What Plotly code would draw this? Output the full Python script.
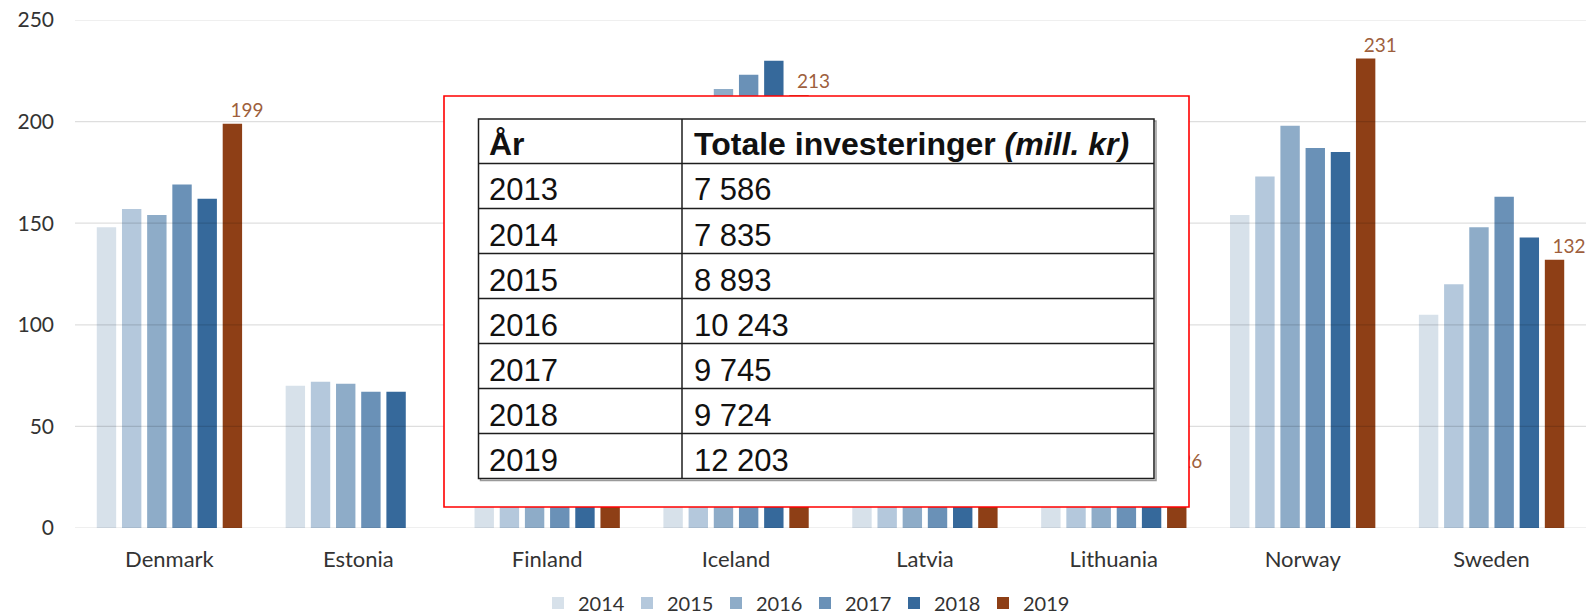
import plotly.graph_objects as go

# ---------------- data ----------------
countries = ["Denmark", "Estonia", "Finland", "Iceland", "Latvia", "Lithuania", "Norway", "Sweden"]
years = ["2014", "2015", "2016", "2017", "2018", "2019"]
v2014 = [148, 70, 112, 200, 38, 20, 154, 105]
v2015 = [157, 72, 118, 207, 42, 22, 173, 120]
v2016 = [154, 71, 124, 216, 45, 24, 198, 148]
v2017 = [169, 67, 126, 223, 44, 23, 187, 163]
v2018 = [162, 67, 128, 230, 48, 25, 185, 143]
v2019 = [199, None, 136, 213, 52, 26, 231, 132]
series = [v2014, v2015, v2016, v2017, v2018, v2019]
colors = ["#d7e1ea", "#b4c8dc", "#8eacc8", "#6a91b7", "#36699b", "#8e3f16"]

y_ticks = [0, 50, 100, 150, 200, 250]

tbl_header = ["<b>År</b>", "<b>Totale investeringer <i>(mill. kr)</i></b>"]
tbl_years = ["2013", "2014", "2015", "2016", "2017", "2018", "2019"]
tbl_invest = ["7 586", "7 835", "8 893", "10 243", "9 745", "9 724", "12 203"]

# ---------------- geometry ----------------
W, H = 1586, 616
ML, MR, MT, MB = 75, 0, 20, 88
PW = W - ML - MR
PH = H - MT - MB


def px(x):
    return (x - ML) / PW


def py(y):
    return (H - MB - y) / PH


fig = go.Figure()
for yr, vals, col in zip(years, series, colors):
    kw = {}
    if yr == "2019":
        kw = dict(
            text=["\u00a0" * 6 + str(v) if v is not None else "" for v in vals],
            textposition="outside",
            textfont=dict(family="Lato", size=19, color="#9e5f3d"),
            constraintext="none",
            cliponaxis=False,
        )
    fig.add_trace(go.Bar(x=countries, y=vals, name=yr, marker=dict(color=col, line=dict(width=0)), **kw))

shapes = []
# grid lines drawn over the bars, semi-transparent
for t in y_ticks:
    shapes.append(dict(type="line", xref="paper", yref="y", x0=0, x1=1, y0=t, y1=t,
                       line=dict(color="rgba(0,0,0,0.13)", width=1.2), layer="above"))

# red overlay box
shapes.append(dict(type="rect", xref="paper", yref="paper", x0=px(444), x1=px(1189), y0=py(507), y1=py(96),
                   fillcolor="white", line=dict(color="#ff0000", width=1.6), layer="above"))

# table
tx0, tx1, tdiv = 478.5, 1154, 682
row_lines = [119, 163.5, 208.5, 253.5, 298.5, 343.5, 388.5, 433.5, 478.5]
# faint shadow
shapes.append(dict(type="rect", xref="paper", yref="paper", x0=px(tx0 + 2), x1=px(tx1 + 2),
                   y0=py(row_lines[-1] + 2), y1=py(row_lines[0] + 2),
                   fillcolor="rgba(0,0,0,0)", line=dict(color="#9a9a9a", width=1.5), layer="above"))
shapes.append(dict(type="rect", xref="paper", yref="paper", x0=px(tx0), x1=px(tx1),
                   y0=py(row_lines[-1]), y1=py(row_lines[0]),
                   fillcolor="white", line=dict(color="#1e1e1e", width=1.5), layer="above"))
for r in row_lines[1:-1]:
    shapes.append(dict(type="line", xref="paper", yref="paper", x0=px(tx0), x1=px(tx1), y0=py(r), y1=py(r),
                       line=dict(color="#1e1e1e", width=1.5), layer="above"))
shapes.append(dict(type="line", xref="paper", yref="paper", x0=px(tdiv), x1=px(tdiv),
                   y0=py(row_lines[-1]), y1=py(row_lines[0]), line=dict(color="#1e1e1e", width=1.5), layer="above"))

annotations = []
rows_text = [tbl_header] + [[a, b] for a, b in zip(tbl_years, tbl_invest)]
for i, (a, b) in enumerate(rows_text):
    size = 32 if i == 0 else 31
    tfont = dict(family="Liberation Sans, Arial", size=size, color="#111111")
    yc = (row_lines[i] + row_lines[i + 1]) / 2 + (4 if i > 0 else 3)
    annotations.append(dict(xref="paper", yref="paper", x=px(487), y=py(yc), text=a, showarrow=False,
                            xanchor="left", yanchor="middle", font=tfont))
    annotations.append(dict(xref="paper", yref="paper", x=px(692), y=py(yc), text=b, showarrow=False,
                            xanchor="left", yanchor="middle", font=tfont))

fig.update_layout(
    width=W, height=H,
    margin=dict(l=ML, r=MR, t=MT, b=MB, autoexpand=False),
    paper_bgcolor="white", plot_bgcolor="white",
    barmode="group", bargap=0.2, bargroupgap=0.23,
    font=dict(family="Lato", color="#404040"),
    xaxis=dict(showgrid=False, showline=False, ticks="", tickfont=dict(family="Lato", size=22, color="#333333"),
               ticklabelstandoff=16, automargin=False),
    yaxis=dict(range=[0, 250], tickvals=y_ticks, showgrid=False, zeroline=False, showline=False,
               tickfont=dict(family="Lato", size=21, color="#333333"), ticklabelstandoff=20, automargin=False),
    legend=dict(orientation="h", x=px(805), xanchor="center", y=py(603), yanchor="middle",
                font=dict(family="Lato", size=20, color="#333333"), traceorder="normal",
                entrywidth=44, entrywidthmode="pixels"),
    shapes=shapes,
    annotations=annotations,
    showlegend=True,
)

fig.write_html("out.html", config={"displayModeBar": False},
               post_script="document.body.style.margin='0';document.body.style.overflow='hidden';")
